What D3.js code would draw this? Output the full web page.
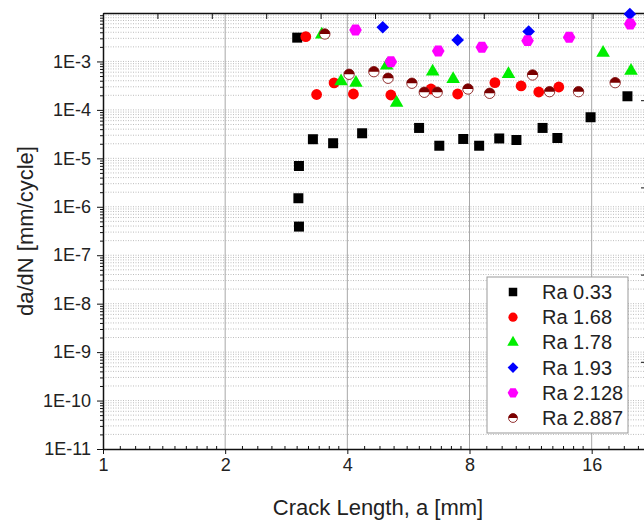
<!DOCTYPE html>
<html>
<head>
<meta charset="utf-8">
<script src="https://cdn.jsdelivr.net/npm/d3@7"></script>
<style>
  body { margin: 0; background: #fff; }
  svg { display: block; font-family: "Liberation Sans", Arial, sans-serif; }
</style>
</head>
<body>
<div id="chart"></div>
<script>
// crack length a [mm] and da/dN [mm/cycle] per surface roughness
var ra033A = [3.01, 3.04, 3.03, 3.04, 3.29, 3.69, 4.35, 6.01, 6.74, 7.72, 8.45, 9.47, 10.44, 12.11, 13.17, 15.9, 19.6];
var ra033V = [3.1e-3, 6.95e-6, 1.5e-6, 3.9e-7, 2.48e-5, 2.05e-5, 3.29e-5, 4.24e-5, 1.82e-5, 2.51e-5, 1.82e-5, 2.57e-5, 2.39e-5, 4.24e-5, 2.63e-5, 7.05e-5, 1.91e-4];

var ra168A = [3.16, 3.36, 3.71, 4.14, 5.12, 6.43, 7.48, 9.24, 10.72, 11.85, 13.28];
var ra168V = [3.25e-3, 2.08e-4, 3.6e-4, 2.13e-4, 2.03e-4, 2.7e-4, 2.13e-4, 3.65e-4, 3.12e-4, 2.34e-4, 2.97e-4];

var ra178A = [3.46, 3.86, 4.2, 5.0, 5.29, 6.49, 7.29, 9.98, 17.07, 20.0];
var ra178V = [3.6e-3, 3.9e-4, 3.6e-4, 8.2e-4, 1.4e-4, 6.2e-4, 4.3e-4, 5.5e-4, 1.5e-3, 6.4e-4];

var ra193A = [4.89, 7.48, 11.19, 19.87];
var ra193V = [5.08e-3, 2.77e-3, 4.16e-3, 9.55e-3];

var ra2128A = [4.19, 5.12, 6.7, 8.58, 11.12, 14.08, 19.91];
var ra2128V = [4.47e-3, 9.89e-4, 1.64e-3, 1.96e-3, 2.69e-3, 3.15e-3, 5.94e-3];

var ra2887A = [3.52, 4.04, 4.65, 5.04, 5.77, 6.19, 6.66, 7.93, 8.97, 11.44, 12.6, 14.85, 18.28];
var ra2887V = [3.69e-3, 5.43e-4, 6.15e-4, 4.5e-4, 3.55e-4, 2.31e-4, 2.31e-4, 2.7e-4, 2.2e-4, 5.26e-4, 2.38e-4, 2.38e-4, 3.65e-4];

var seriesNames = ["Ra 0.33", "Ra 1.68", "Ra 1.78", "Ra 1.93", "Ra 2.128", "Ra 2.887"];
var xTicks = [1, 2, 4, 8, 16];
var yTicks = [1e-11, 1e-10, 1e-9, 1e-8, 1e-7, 1e-6, 1e-5, 1e-4, 1e-3];
var yTickLabels = ["1E-11", "1E-10", "1E-9", "1E-8", "1E-7", "1E-6", "1E-5", "1E-4", "1E-3"];

var W = 644, H = 520;
var pLeft = 103, pRight = 647, pTop = 13, pBottom = 449;

var svg = d3.select("#chart").append("svg")
  .attr("width", W).attr("height", H);

var x = d3.scaleLog().base(2).domain([1, 21.9]).range([pLeft, pRight]);
var y = d3.scaleLog().domain([1e-11, 1e-2]).range([pBottom, pTop]);

// minor values
var yMinor = [];
for (var e = -11; e < -2; e++) {
  for (var k = 2; k <= 9; k++) yMinor.push(k * Math.pow(10, e));
}
var xMinor = [];
[1, 2, 4, 8, 16].forEach(function(b) {
  for (var k = 1; k <= 9; k++) {
    var v = b * (1 + k / 10);
    if (v < 21.9) xMinor.push(v);
  }
});

// grid
var grid = svg.append("g");
grid.selectAll("line.hm")
  .data(yMinor.concat(yTicks.slice(1)))
  .enter().append("line")
  .attr("x1", pLeft).attr("x2", pRight)
  .attr("y1", function(d) { return y(d); })
  .attr("y2", function(d) { return y(d); })
  .attr("stroke", "#bdbdbd")
  .attr("stroke-width", 1)
  .attr("stroke-dasharray", "1,1.5");

grid.selectAll("line.vm")
  .data(xTicks.slice(1))
  .enter().append("line")
  .attr("x1", function(d) { return x(d); })
  .attr("x2", function(d) { return x(d); })
  .attr("y1", pTop).attr("y2", pBottom)
  .attr("stroke", "#a8a8a8")
  .attr("stroke-width", 1);

// axes
var xAxis = d3.axisBottom(x).tickValues(xTicks).tickFormat(d3.format("d"))
  .tickSizeInner(5).tickSizeOuter(0).tickPadding(4);
var gx = svg.append("g")
  .attr("transform", "translate(0," + pBottom + ")")
  .call(xAxis);
gx.selectAll("text").attr("font-size", 18).attr("fill", "#222")
  .attr("font-family", "Liberation Sans, Arial, sans-serif");

var xMinorAxis = d3.axisTop(x).tickValues(xMinor).tickFormat("").tickSizeInner(3).tickSizeOuter(0);
svg.append("g").attr("transform", "translate(0," + pBottom + ")").call(xMinorAxis)
  .select(".domain").remove();

var yAxis = d3.axisLeft(y).tickValues(yTicks)
  .tickFormat(function(d, i) { return yTickLabels[i]; })
  .tickSizeInner(6).tickSizeOuter(0).tickPadding(6);
var gy = svg.append("g")
  .attr("transform", "translate(" + pLeft + ",0)")
  .call(yAxis);
gy.selectAll("text").attr("font-size", 18).attr("fill", "#222")
  .attr("font-family", "Liberation Sans, Arial, sans-serif");

var yMinorAxis = d3.axisLeft(y).tickValues(yMinor).tickFormat("").tickSizeInner(3).tickSizeOuter(0);
svg.append("g").attr("transform", "translate(" + pLeft + ",0)").call(yMinorAxis)
  .select(".domain").remove();

// top axis: evenly spaced ticks
var xTop = d3.scaleLinear().domain([0, 10]).range([pLeft, pRight]);
svg.append("g").attr("transform", "translate(0," + pTop + ")")
  .call(d3.axisBottom(xTop).ticks(10).tickFormat("").tickSizeInner(6).tickSizeOuter(0));

// right axis
var yRight = d3.scaleLinear().domain([0, 5]).range([pTop, pBottom]);
svg.append("g").attr("transform", "translate(" + pRight + ",0)")
  .call(d3.axisLeft(yRight).ticks(5).tickFormat("").tickSizeInner(6).tickSizeOuter(0));
svg.append("g").attr("transform", "translate(" + pRight + ",0)")
  .call(d3.axisLeft(yRight).tickValues([0.5, 1.5, 2.5, 3.5, 4.5]).tickFormat("").tickSizeInner(3).tickSizeOuter(0))
  .select(".domain").remove();

svg.selectAll(".domain").attr("stroke", "#111").attr("stroke-width", 1.5);
svg.selectAll(".tick line").attr("stroke", "#111").attr("stroke-width", 1);

// axis titles
svg.append("text")
  .attr("x", (pLeft + pRight) / 2 + 3).attr("y", 515)
  .attr("text-anchor", "middle")
  .attr("font-size", 22).attr("fill", "#222")
  .text("Crack Length, a [mm]");

svg.append("text")
  .attr("transform", "translate(33," + 231 + ") rotate(-90)")
  .attr("text-anchor", "middle")
  .attr("font-size", 22).attr("fill", "#222")
  .text("da/dN [mm/cycle]");

// markers
function hexPath(r) {
  var pts = d3.range(6).map(function(i) {
    var a = Math.PI / 3 * i;
    return [r * Math.cos(a), r * Math.sin(a)];
  });
  return "M" + pts.join("L") + "Z";
}
var halfTop = d3.arc().innerRadius(0).outerRadius(5).startAngle(-Math.PI / 2).endAngle(Math.PI / 2);

function drawMarker(g, kind, scale) {
  scale = scale || 1;
  if (kind === 0) {
    g.append("path").attr("d", d3.symbol().type(d3.symbolSquare).size(100 * scale * scale)()).attr("fill", "#000");
  } else if (kind === 1) {
    g.append("circle").attr("r", 5.4 * scale).attr("fill", "#ff0000");
  } else if (kind === 2) {
    g.append("path").attr("d", d3.symbol().type(d3.symbolTriangle).size(80 * scale * scale)()).attr("fill", "#00ee00");
  } else if (kind === 3) {
    g.append("path").attr("d", d3.symbol().type(d3.symbolSquare).size(80 * scale * scale)())
      .attr("transform", "rotate(45)").attr("fill", "#0000ff");
  } else if (kind === 4) {
    g.append("path").attr("d", hexPath(6.3 * scale)).attr("fill", "#ff00ff");
  } else {
    g.append("circle").attr("r", 5.2 * scale).attr("fill", "#fff");
    g.append("path").attr("d", halfTop.outerRadius(5.2 * scale)()).attr("fill", "#7a0000");
    g.append("circle").attr("r", 5.2 * scale).attr("fill", "none").attr("stroke", "#7a0000").attr("stroke-width", 0.8);
  }
}

var seriesA = [ra033A, ra168A, ra178A, ra193A, ra2128A, ra2887A];
var seriesV = [ra033V, ra168V, ra178V, ra193V, ra2128V, ra2887V];

seriesA.forEach(function(arr, s) {
  var pts = arr.map(function(a, i) { return [a, seriesV[s][i]]; });
  svg.append("g").selectAll("g")
    .data(pts)
    .enter().append("g")
    .attr("transform", function(d) { return "translate(" + x(d[0]) + "," + y(d[1]) + ")"; })
    .each(function() { drawMarker(d3.select(this), s); });
});

// legend
var lg = svg.append("g").attr("transform", "translate(487,277)");
lg.append("rect").attr("width", 141).attr("height", 156)
  .attr("fill", "#fff").attr("stroke", "#999").attr("stroke-width", 1);
seriesNames.forEach(function(name, i) {
  var row = lg.append("g").attr("transform", "translate(0," + (15 + i * 25.2) + ")");
  var m = row.append("g").attr("transform", "translate(26,0)");
  drawMarker(m, i, 0.85);
  row.append("text").attr("x", 55).attr("y", 7)
    .attr("font-size", 20).attr("fill", "#222").text(name);
});
</script>
</body>
</html>
